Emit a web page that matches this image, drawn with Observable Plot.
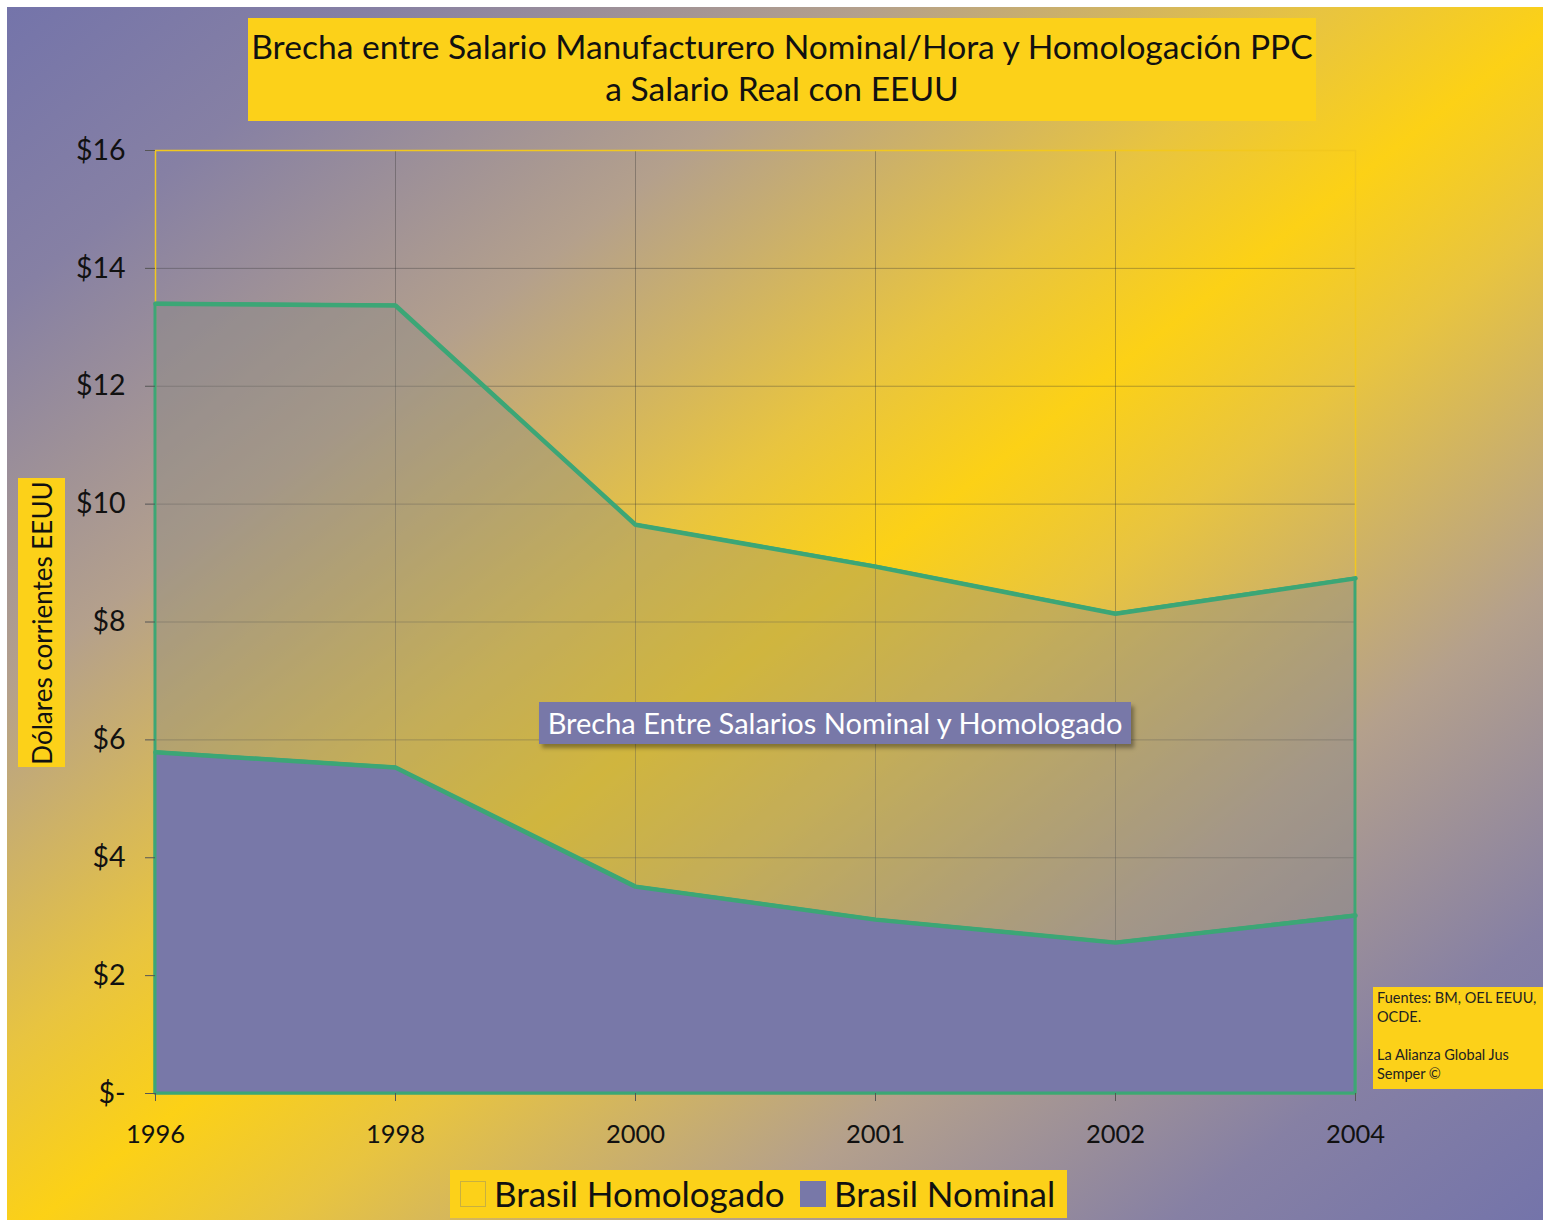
<!DOCTYPE html>
<html>
<head>
<meta charset="utf-8">
<script src="https://cdn.jsdelivr.net/npm/d3@7"></script>
<script src="https://cdn.jsdelivr.net/npm/@observablehq/plot@0.6"></script>
<style>
  html, body { margin: 0; padding: 0; background: #fff; }
  #page { position: relative; width: 1543px; height: 1220px; overflow: hidden; font-family: Lato, "Open Sans", sans-serif; }
  #bg { position: absolute; left: 7px; top: 7px; width: 1536px; height: 1213px;
        background: linear-gradient(to bottom right, #7474aa 0%, #8680a4 12%, #b4a08c 28%, #e8c440 43%, #fcd116 51%, #e8c440 59%, #b4a08c 74%, #8680a4 88%, #7474aa 100%); }
  #chart { position: absolute; left: 0; top: 0; }
  .box { position: absolute; background: #fcd119; color: #111; }
  #title { left: 248px; top: 18px; width: 1068px; height: 103px; text-align: center; font-size: 33.6px; line-height: 42px; padding-top: 7px; box-sizing: border-box; white-space: nowrap; }
  #ytitle { left: 18px; top: 478px; width: 47px; height: 289px; }
  #ytitle span { position: absolute; left: 50%; top: 50%; transform: translate(-50%,-50%) rotate(-90deg); white-space: nowrap; font-size: 26px; }
  #legend { left: 450px; top: 1170px; width: 617px; height: 48px; font-size: 35px; white-space: nowrap; }
  #legend .sw { position: absolute; top: 11px; width: 26px; height: 26px; }
  #legend .lb { position: absolute; top: 3px; line-height: 40px; }
  #note { position: absolute; left: 539px; top: 702px; width: 592px; height: 42px; background: #7878a8; color: #fff; font-size: 29px; line-height: 42px; text-align: center; white-space: nowrap; box-shadow: 3px 4px 4px rgba(0,0,0,0.35); }
  #source { left: 1373px; top: 987px; width: 170px; height: 102px; font-size: 14.5px; line-height: 19px; padding: 1px 4px; box-sizing: border-box; color: #222; }
</style>
</head>
<body>
<div id="page">
  <div id="bg"></div>
  <div id="chart"></div>
  <div id="title" class="box">Brecha entre Salario Manufacturero Nominal/Hora y Homologación PPC<br>a Salario Real con EEUU</div>
  <div id="ytitle" class="box"><span>Dólares corrientes EEUU</span></div>
  <div id="note">Brecha Entre Salarios Nominal y Homologado</div>
  <div id="source" class="box">Fuentes: BM, OEL EEUU, OCDE.<br><br>La Alianza Global Jus Semper ©</div>
  <div id="legend" class="box">
    <div class="sw" style="left:10px; background:#fcd119; border:1px solid #c8b040; box-sizing:border-box;"></div>
    <div class="lb" style="left:44px;">Brasil Homologado</div>
    <div class="sw" style="left:350px; background:#7878a8;"></div>
    <div class="lb" style="left:384px;">Brasil Nominal</div>
  </div>
</div>
<script>
const years = ["1996", "1998", "2000", "2001", "2002", "2004"];
const homologado = [13.40, 13.37, 9.65, 8.94, 8.14, 8.74];
const nominal = [5.79, 5.53, 3.51, 2.95, 2.56, 3.02];
const yTicks = [0, 2, 4, 6, 8, 10, 12, 14, 16];

const rowsH = years.map((y, i) => ({year: y, value: homologado[i]}));
const rowsN = years.map((y, i) => ({year: y, value: nominal[i]}));

const green = "#3ca676";

const chart = Plot.plot({
  width: 1543,
  height: 1220,
  marginLeft: 155,
  marginRight: 188,
  marginTop: 150,
  marginBottom: 127,
  style: {background: "transparent", fontFamily: "Lato, 'Open Sans', sans-serif", color: "#111"},
  x: {type: "point", domain: years, padding: 0, label: null},
  y: {domain: [0, 16], label: null},
  marks: [
    Plot.gridY(yTicks, {stroke: "#333", strokeOpacity: 0.35}),
    Plot.gridX(years, {stroke: "#333", strokeOpacity: 0.35}),
    Plot.frame({stroke: "#f2c81e", strokeWidth: 1.5}),
    Plot.areaY(rowsH, {x: "year", y: "value", fill: "#8a8a80", fillOpacity: 0.38, stroke: green, strokeWidth: 3}),
    Plot.areaY(rowsN, {x: "year", y: "value", fill: "#7878a8", stroke: green, strokeWidth: 3}),
    Plot.line(rowsH, {x: "year", y: "value", stroke: green, strokeWidth: 4.5}),
    Plot.line(rowsN, {x: "year", y: "value", stroke: green, strokeWidth: 4.5}),
    Plot.axisY(yTicks, {tickFormat: d => d === 0 ? "$-" : "$" + d, tickSize: 10, tickPadding: 20, fontSize: 28.5, stroke: "#555"}),
    Plot.axisX(years, {tickSize: 8, tickPadding: 23, fontSize: 25.5, stroke: "#555"})
  ]
});
document.getElementById("chart").appendChild(chart);
</script>
</body>
</html>
